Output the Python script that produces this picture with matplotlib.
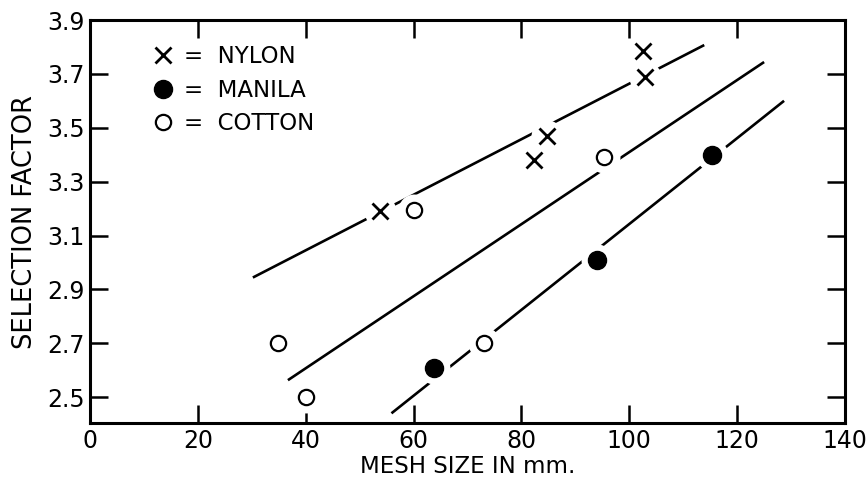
import matplotlib.pyplot as plt
from matplotlib.lines import Line2D

# Data
nylon_x = [53.7, 82.4, 84.8, 102.6, 103.0]
nylon_y = [3.19, 3.38, 3.47, 3.785, 3.69]

manila_x = [63.7, 94.1, 115.4]
manila_y = [2.61, 3.01, 3.40]

cotton_x = [34.8, 40.0, 60.0, 73.0, 95.4]
cotton_y = [2.70, 2.50, 3.196, 2.70, 3.39]

# fitted lines (end points)
line_top_x = [30.2, 113.9]
line_top_y = [2.944, 3.807]
line_mid_x = [36.7, 125.0]
line_mid_y = [2.563, 3.744]
line_bot_x = [55.9, 128.7]
line_bot_y = [2.44, 3.60]

xticks = [0, 20, 40, 60, 80, 100, 120, 140]
yticks = [2.5, 2.7, 2.9, 3.1, 3.3, 3.5, 3.7, 3.9]

plt.rcParams['font.family'] = ['DejaVu Sans']

fig = plt.figure(figsize=(8.68, 4.82), dpi=100)
ax = fig.add_axes([0.1037, 0.1224, 0.8698, 0.8361])

# Lines
for lx, ly in [(line_top_x, line_top_y), (line_mid_x, line_mid_y), (line_bot_x, line_bot_y)]:
    ax.plot(lx, ly, color='black', lw=1.9, solid_capstyle='butt', zorder=1)

# white halos break the lines around the points
all_x = nylon_x + manila_x + cotton_x
all_y = nylon_y + manila_y + cotton_y
ax.plot(all_x, all_y, 'o', ls='none', ms=23, mfc='white', mec='none', zorder=2)

ax.plot(nylon_x, nylon_y, 'x', ls='none', ms=11, mew=2.0, color='black', zorder=3)
ax.plot(manila_x, manila_y, 'o', ls='none', ms=13, mfc='black', mec='black', zorder=3)
ax.plot(cotton_x, cotton_y, 'o', ls='none', ms=11, mfc='white', mec='black', mew=1.6, zorder=3)

ax.set_xlim(0, 140)
ax.set_ylim(2.404, 3.89)
ax.set_xticks(xticks)
ax.set_yticks(yticks)
ax.set_xticklabels([str(t) for t in xticks])
ax.set_yticklabels([f'{t:.1f}' for t in yticks])

ax.tick_params(direction='in', length=13, width=1.8, labelsize=17,
               top=True, right=True, pad=4)
for s in ax.spines.values():
    s.set_linewidth(2.2)

ax.set_xlabel('MESH SIZE IN mm.', fontsize=16.5, labelpad=2)
ax.set_ylabel('SELECTION FACTOR', fontsize=18.5, labelpad=6)

handles = [
    Line2D([], [], marker='x', ls='none', ms=11, mew=2.0, color='black'),
    Line2D([], [], marker='o', ls='none', ms=13, mfc='black', mec='black'),
    Line2D([], [], marker='o', ls='none', ms=11, mfc='white', mec='black', mew=1.6),
]
labels = ['=  NYLON', '=  MANILA', '=  COTTON']
ax.legend(handles, labels, loc='upper left', bbox_to_anchor=(0.073, 0.96),
          frameon=False, fontsize=16.5, handlelength=0.8, handletextpad=0.5,
          labelspacing=0.45, borderaxespad=0)

fig.savefig('out.png', dpi=100)
